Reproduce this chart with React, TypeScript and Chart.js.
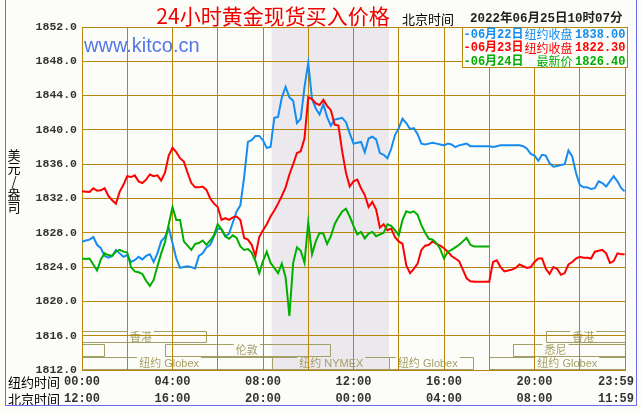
import React, { useEffect, useRef } from 'react';
import { Chart, registerables } from 'chart.js';
Chart.register(...registerables);

// time axis: New York minutes, 10-minute samples (last one is 23:59)
const minutes = Array.from({ length: 145 }, (_, i) => Math.min(i * 10, 1439));

const blueValues = [
  1826.95, 1827.1, 1827.2, 1827.5, 1826.6, 1826.2, 1825.3, 1825.1, 1825.3, 1826.0, 1825.6, 1825.2,
  1825.4, 1824.6, 1824.8, 1825.2, 1824.9, 1825.3, 1825.5, 1824.6, 1825.6, 1827.0, 1827.5, 1828.6,
  1826.8, 1825.0, 1823.9, 1824.0, 1824.1, 1824.0, 1823.85, 1825.3, 1825.6, 1826.3, 1826.6, 1827.6,
  1828.5, 1828.4, 1827.6, 1827.9, 1829.2, 1830.5, 1831.2, 1834.5, 1838.6, 1838.8, 1839.3, 1839.3,
  1838.8, 1837.9, 1838.0, 1841.4, 1841.5, 1843.8, 1845.0, 1843.8, 1843.4, 1840.8, 1841.3, 1845.0,
  1847.8, 1843.6, 1842.5, 1841.8, 1843.0, 1841.5, 1840.5, 1841.2, 1841.3, 1841.4, 1840.9, 1839.6,
  1838.4, 1838.5, 1838.6, 1837.4, 1839.0, 1839.2, 1838.9, 1837.3, 1837.1, 1836.7, 1837.8, 1839.4,
  1840.2, 1841.3, 1840.8, 1840.1, 1840.2, 1839.5, 1838.4, 1838.3, 1838.4, 1838.5, 1838.4, 1838.3,
  1838.2, 1838.4, 1838.3, 1838.0, 1838.2, 1838.3, 1838.4, 1838.1, 1838.1, 1838.1, 1838.1, 1838.1,
  1838.1, 1838.0, 1838.1, 1838.2, 1838.2, 1838.2, 1838.2, 1838.2, 1838.2, 1838.1, 1837.8, 1837.2,
  1837.0, 1836.4, 1837.1, 1837.0, 1836.1, 1835.7, 1835.8, 1835.9, 1836.0, 1837.6, 1836.9, 1835.0,
  1833.6, 1833.3, 1833.3, 1833.1, 1833.2, 1834.0, 1833.8, 1833.4, 1834.0, 1834.6, 1834.0, 1833.2,
  1832.85,
];

const redValues = [
  1832.85, 1832.8, 1832.75, 1833.2, 1832.9, 1832.95, 1833.2, 1832.3, 1831.8, 1831.4, 1832.8, 1833.6,
  1834.6, 1834.5, 1834.7, 1834.0, 1833.8, 1834.2, 1834.8, 1834.6, 1834.7, 1834.1, 1835.0, 1837.0,
  1837.9, 1837.4, 1836.7, 1836.3, 1835.0, 1833.8, 1833.3, 1833.3, 1833.4, 1833.0, 1832.0, 1831.4,
  1831.0, 1829.5, 1829.7, 1829.5, 1829.8, 1829.9, 1829.5, 1827.4, 1827.2, 1826.6, 1825.3, 1827.5,
  1828.3, 1829.0, 1829.9, 1830.6, 1831.4, 1832.3, 1833.3, 1834.8, 1836.0, 1837.3, 1837.5, 1839.0,
  1843.8, 1843.6, 1843.1, 1842.9, 1843.5, 1842.8, 1842.3, 1840.6, 1840.5, 1837.5, 1835.0, 1833.4,
  1834.0, 1834.2, 1833.2, 1832.4, 1831.0, 1831.6, 1830.7, 1828.6, 1829.0, 1828.3, 1828.5, 1827.5,
  1827.0, 1826.7, 1824.2, 1823.3, 1823.8, 1824.4, 1826.0, 1826.5, 1826.6, 1827.0, 1826.7, 1826.5,
  1826.2, 1825.8, 1825.3, 1825.0, 1824.7, 1823.7, 1822.7, 1822.35, 1822.3, 1822.3, 1822.3, 1822.3,
  1822.3, 1824.6, 1824.8, 1824.0, 1823.5, 1823.6, 1823.7, 1823.9, 1824.3, 1824.1, 1823.9, 1824.0,
  1824.6, 1825.0, 1825.0, 1823.8, 1823.2, 1824.0, 1823.8, 1823.1, 1823.3, 1824.3, 1824.6, 1825.0,
  1825.2, 1825.1, 1825.1, 1825.0, 1825.8, 1825.9, 1826.0, 1825.6, 1824.5, 1824.7, 1825.6, 1825.5,
  1825.5,
];

const greenValues = [
  1825.0, 1824.95, 1825.0, 1824.3, 1823.6, 1824.9, 1825.6, 1825.4, 1825.3, 1825.8, 1826.0, 1825.8,
  1825.7, 1824.0, 1823.5, 1823.4, 1823.2, 1822.4, 1821.8, 1822.5, 1824.1, 1825.6, 1826.9, 1829.0,
  1831.0, 1829.5, 1829.5, 1827.0, 1826.5, 1826.0, 1826.7, 1826.8, 1827.1, 1826.6, 1827.1, 1827.7,
  1829.0, 1828.4, 1827.6, 1827.3, 1827.7, 1827.4, 1826.4, 1826.0, 1826.1, 1825.7, 1824.7, 1823.3,
  1824.7, 1825.8, 1824.5, 1823.9, 1823.3, 1824.4, 1822.8, 1818.3, 1824.5, 1826.3, 1825.9, 1824.5,
  1829.2, 1825.5, 1827.0, 1828.0, 1827.9, 1826.7, 1827.6, 1829.0, 1829.8, 1830.5, 1830.8, 1829.9,
  1828.8, 1827.8, 1828.1, 1827.35, 1827.9, 1828.1, 1827.6, 1827.8, 1828.0, 1829.0, 1828.8, 1828.3,
  1827.7, 1829.5, 1830.5, 1830.35, 1830.5, 1830.1, 1828.9, 1828.0, 1827.3, 1827.2, 1826.8, 1826.1,
  1825.0, 1825.8, 1826.0, 1826.3, 1826.6, 1827.0, 1827.4, 1826.6, 1826.4, 1826.4, 1826.4, 1826.4,
  1826.4,
];

const tickMinutes = [0, 240, 480, 720, 960, 1200, 1439];
const nyTickLabels = ['00:00', '04:00', '08:00', '12:00', '16:00', '20:00', '23:59'];
const bjTickLabels = ['12:00', '16:00', '20:00', '00:00', '04:00', '08:00', '11:59'];

const legendDates = ['-06月22日', '-06月23日', '-06月24日'];
const legendNames = ['纽约收盘', '纽约收盘', '最新价'];
const legendPrices = ['1838.00', '1822.30', '1826.40'];

const titleText = '24小时黄金现货买入价格';
const clockLabel = '北京时间';
const clockText = '2022年06月25日10时07分';
const unitChars = ['美', '元', '/', '盎', '司'];
const rowLabels = ['纽约时间', '北京时间'];

// shaded NYMEX floor session (minutes)
const bandStart = 503;
const bandEnd = 814;

// market session bars: row, start/end minutes, label centre minute
const sessionRowTop = [1816.55, 1815.0, 1813.48];
const sessionRowBottom = [1815.11, 1813.55, 1812];
const sessionLabels = ['香港', '香港', '', '伦敦', '悉尼', '纽约 Globex', '纽约 NYMEX', '纽约 Globex', '纽约 Globex'];
const sessionRows = [0, 0, 1, 1, 1, 2, 2, 2, 2];
const sessionStarts = [-240, 1230, -300, 220, 1142, -360, 503, 814, 1080];
const sessionEnds = [328, 1700, 58, 657, 1700, 503, 814, 1036, 1800];
const sessionLabelAt = [156, 1329, 0, 437, 1256, 231, 661, 917, 1287];

const BG = '#FCFDF8';
const GOLD = '#B8860B';
const OLIVE = '#A29E66';
const BLUE = '#148CF0';
const RED = '#FF0000';
const GREEN = '#00AE00';
const seriesColors = [BLUE, RED, GREEN];
const MONO = '"Liberation Mono", "DejaVu Sans Mono", "Noto Sans CJK SC", monospace';
const CJK = '"Noto Sans CJK SC", "Liberation Sans", sans-serif';

const decorPlugin = {
  id: 'decor',
  beforeDraw(chart: any) {
    const { ctx, chartArea: a, scales } = chart;
    const x = scales.x;
    const y = scales.y;
    ctx.save();
    ctx.fillStyle = BG;
    ctx.fillRect(0, 0, chart.width, chart.height);
    // shaded band
    const b0 = x.getPixelForValue(bandStart);
    const b1 = x.getPixelForValue(bandEnd);
    ctx.fillStyle = '#ECE9EE';
    ctx.fillRect(b0, a.top, b1 - b0, a.bottom - a.top);
    // session bars
    ctx.beginPath();
    ctx.rect(a.left, a.top, a.right - a.left, a.bottom - a.top);
    ctx.clip();
    ctx.strokeStyle = OLIVE;
    ctx.fillStyle = OLIVE;
    ctx.lineWidth = 1;
    ctx.font = '11px "Liberation Sans", "Noto Sans CJK SC", sans-serif';
    ctx.textAlign = 'center';
    ctx.textBaseline = 'middle';
    for (let i = 0; i < sessionLabels.length; i++) {
      const r = sessionRows[i];
      const x0 = Math.round(x.getPixelForValue(sessionStarts[i])) + 0.5;
      const x1 = Math.round(x.getPixelForValue(sessionEnds[i])) + 0.5;
      const yT = Math.round(y.getPixelForValue(sessionRowTop[r])) + 0.5;
      const yB = Math.round(y.getPixelForValue(sessionRowBottom[r])) - 0.5;
      ctx.beginPath();
      ctx.moveTo(x0, yT);
      ctx.lineTo(x0, yB);
      ctx.lineTo(x1, yB);
      ctx.lineTo(x1, yT);
      ctx.stroke();
      const label = sessionLabels[i];
      if (label) {
        const lx = x.getPixelForValue(sessionLabelAt[i]);
        const w = ctx.measureText(label).width;
        ctx.beginPath();
        ctx.moveTo(x0, yT);
        ctx.lineTo(lx - w / 2 - 2, yT);
        ctx.moveTo(lx + w / 2 + 2, yT);
        ctx.lineTo(x1, yT);
        ctx.stroke();
        ctx.fillText(label, lx, (yT + yB) / 2 + 0.5);
      } else {
        ctx.beginPath();
        ctx.moveTo(x0, yT);
        ctx.lineTo(x1, yT);
        ctx.stroke();
      }
    }
    ctx.restore();
  },
  beforeDatasetsDraw(chart: any) {
    const { ctx, chartArea: a } = chart;
    ctx.save();
    ctx.fillStyle = '#5577E6';
    ctx.font = '20px "Liberation Sans", Arial, sans-serif';
    ctx.textAlign = 'left';
    ctx.textBaseline = 'alphabetic';
    ctx.fillText('www.kitco.cn', a.left + 2, a.top + 25);
    ctx.restore();
  },
  afterDraw(chart: any) {
    const { ctx, chartArea: a, scales } = chart;
    const x = scales.x;
    ctx.save();
    // legend box
    const lw = 165;
    const lh = 40;
    const lx = Math.round(a.right + 2) - lw + 0.5;
    const ly = Math.round(a.top) + 0.5;
    ctx.fillStyle = BG;
    ctx.fillRect(lx, ly, lw, lh);
    ctx.strokeStyle = GOLD;
    ctx.lineWidth = 1;
    ctx.strokeRect(lx, ly, lw, lh);
    ctx.textBaseline = 'middle';
    for (let i = 0; i < 3; i++) {
      const cy = ly + 7 + i * 13.5;
      ctx.fillStyle = seriesColors[i];
      ctx.textAlign = 'left';
      ctx.font = 'bold 12px ' + MONO;
      ctx.fillText(legendDates[i], lx + 1, cy);
      ctx.textAlign = 'right';
      ctx.fillText(legendPrices[i], lx + lw - 2, cy);
      ctx.font = '12px ' + CJK;
      ctx.fillText(legendNames[i], lx + lw - 55, cy);
    }
    // title and clock
    ctx.textAlign = 'center';
    ctx.fillStyle = '#F00000';
    ctx.font = '21px ' + CJK;
    ctx.fillText(titleText, 273, 16);
    ctx.textAlign = 'left';
    ctx.fillStyle = '#000';
    ctx.font = '13px ' + CJK;
    ctx.fillText(clockLabel, 402, 19);
    ctx.fillStyle = '#222';
    ctx.font = 'bold 12.5px ' + MONO;
    ctx.fillText(clockText, 470, 19);
    // unit label
    ctx.textAlign = 'center';
    ctx.fillStyle = '#000';
    ctx.font = '13px ' + CJK;
    unitChars.forEach((c, i) => ctx.fillText(c, 14, 155 + i * 12.9));
    // bottom time rows
    ctx.textAlign = 'left';
    ctx.font = '13px ' + CJK;
    ctx.fillText(rowLabels[0], 8, 382);
    ctx.fillText(rowLabels[1], 8, 399);
    ctx.font = 'bold 12px ' + MONO;
    ctx.fillStyle = '#333';
    ctx.textAlign = 'center';
    const maxRight = chart.width - 8;
    tickMinutes.forEach((m, i) => {
      const w = ctx.measureText(nyTickLabels[i]).width;
      let cx = x.getPixelForValue(m);
      if (cx + w / 2 > maxRight) cx = maxRight - w / 2;
      ctx.fillText(nyTickLabels[i], cx, 382);
      ctx.fillText(bjTickLabels[i], cx, 399);
    });
    // outer frame
    ctx.strokeStyle = '#6B6BEF';
    ctx.lineWidth = 1;
    ctx.beginPath();
    ctx.moveTo(5.5, 0);
    ctx.lineTo(5.5, 405.5);
    ctx.lineTo(636.5, 405.5);
    ctx.lineTo(636.5, 0);
    ctx.stroke();
    ctx.restore();
  },
};

function toPoints(values: number[]) {
  return values.map((v, i) => ({ x: minutes[i], y: v }));
}

export default function App() {
  const ref = useRef<HTMLCanvasElement>(null);
  useEffect(() => {
    document.body.style.margin = '0';
    const canvas = ref.current;
    if (!canvas) return;
    const chart = new Chart(canvas, {
      type: 'line',
      data: {
        datasets: [
          { label: '06月24日', data: toPoints(greenValues), borderColor: GREEN, borderWidth: 2 },
          { label: '06月23日', data: toPoints(redValues), borderColor: RED, borderWidth: 2 },
          { label: '06月22日', data: toPoints(blueValues), borderColor: BLUE, borderWidth: 2 },
        ],
      },
      options: {
        responsive: false,
        animation: false,
        devicePixelRatio: 1,
        parsing: false as any,
        elements: { point: { radius: 0 }, line: { tension: 0 } },
        layout: { padding: { top: 27, right: 17, left: 0, bottom: 0 } },
        plugins: { legend: { display: false }, tooltip: { enabled: false } },
        events: [],
        scales: {
          x: {
            type: 'linear',
            min: 0,
            max: 1440,
            ticks: { stepSize: 120, display: false },
            grid: { color: GOLD, lineWidth: 1, drawTicks: false },
            border: { color: GOLD, width: 1 },
            afterFit: (s: any) => { s.height = 42; },
          },
          y: {
            type: 'linear',
            min: 1812,
            max: 1852,
            ticks: {
              stepSize: 4,
              padding: 5,
              color: '#333',
              font: { family: MONO, size: 11.5, weight: 'bold' },
              callback: (v: any) => Number(v).toFixed(1),
            },
            grid: { color: GOLD, lineWidth: 1, drawTicks: false },
            border: { color: GOLD, width: 1 },
            afterFit: (s: any) => { s.width = 82; },
          },
        },
      },
      plugins: [decorPlugin],
    });
    return () => chart.destroy();
  }, []);
  return (
    <div style={{ width: 642, height: 412 }}>
      <canvas ref={ref} width={642} height={412} style={{ display: 'block' }} />
    </div>
  );
}
